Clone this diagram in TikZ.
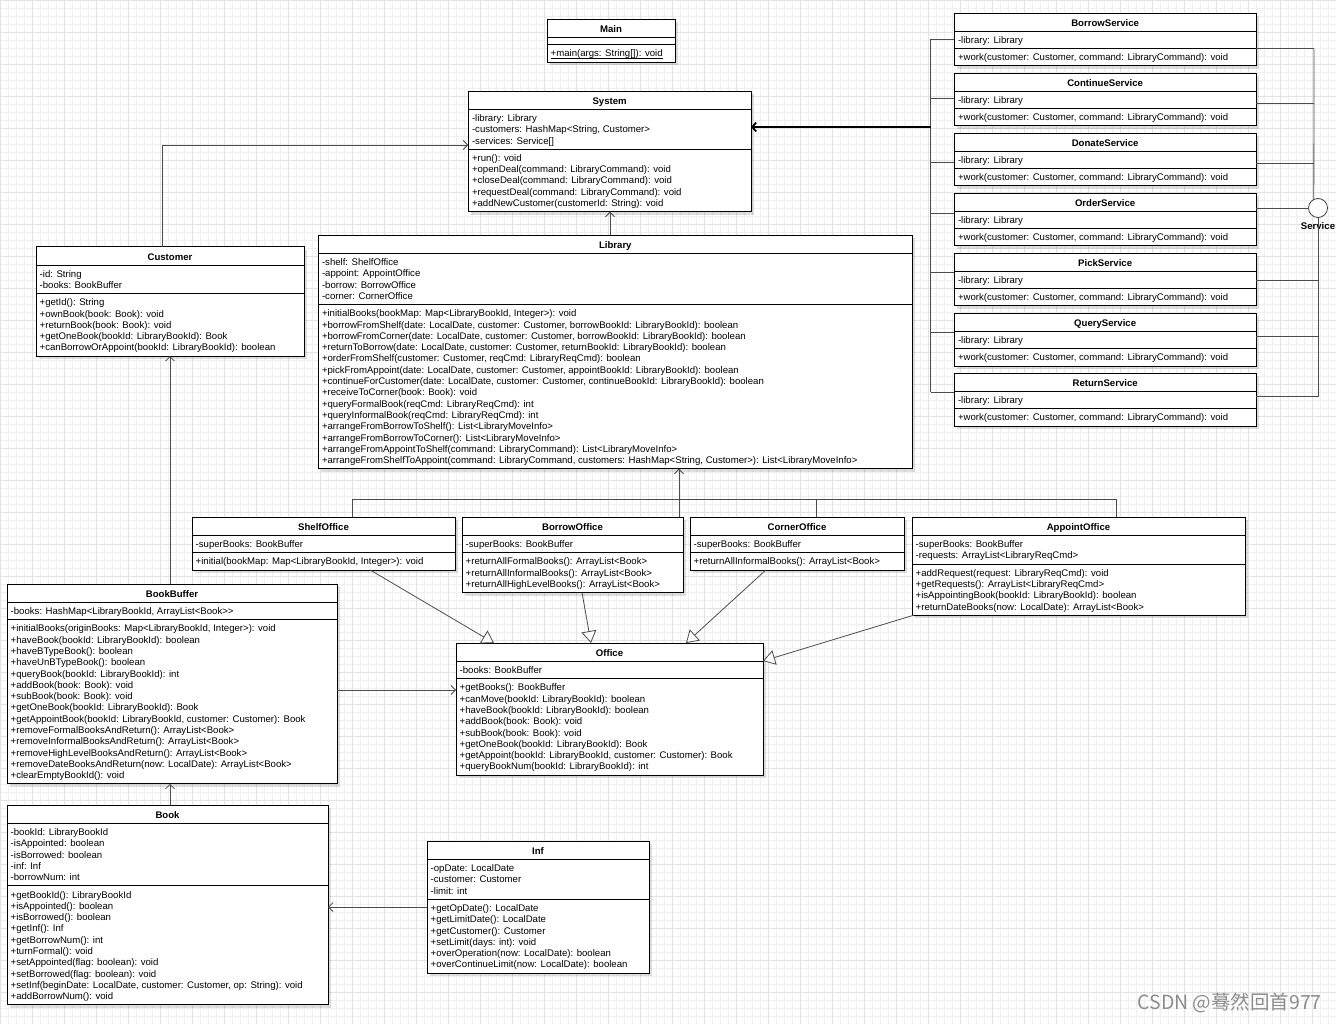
\documentclass[tikz,border=0pt]{standalone}
\usepackage{fontspec}
\setmainfont{Liberation Sans}
\newfontfamily\cjkfont{Noto Sans CJK SC}
\usetikzlibrary{arrows.meta}
\newcommand\sx{\vrule height 8.3pt depth 3pt width 0pt\relax}
\newcommand\nl{\\\sx}
\newcommand\uline[1]{\setbox0\hbox{#1}\rlap{\vrule height -1.1pt depth 1.9pt width \wd0}\box0}
\tikzset{
  classbox/.style={draw=black, fill=white, line width=0.8pt, anchor=north west, inner sep=0pt, outer sep=0pt},
  divline/.style={draw=black, line width=0.8pt},
  shadowc/.style={fill=black, opacity=0.13},
  ctitle/.style={anchor=base, inner sep=0pt, font=\fontsize{9.6}{11.3}\selectfont\bfseries},
  csec/.style={anchor=north west, align=left, inner sep=0pt, font=\fontsize{9.6}{11.3}\selectfont},
  conn/.style={draw=black!70, line width=0.8pt},
  assoc/.style={conn, -{Straight Barb[length=4.5pt,width=9pt]}},
  gen/.style={conn, -{Triangle[open,fill=white,length=12pt,width=15pt]}},
  busthick/.style={draw=black, line width=1.8pt, -{Straight Barb[length=4pt,width=9pt]}},
  gridmin/.style={draw=black!6, line width=0.5pt},
  gridmaj/.style={draw=black!11, line width=0.5pt},
  wmtext/.style={anchor=east, inner sep=0pt, text=black!45, font=\cjkfont\fontsize{19.5}{22}\selectfont},
}
\newcommand\umlclass[9]{%
  \pgfmathsetmacro\cya{#5+18.3}%
  \pgfmathsetmacro\cyb{\cya+ifthenelse(#6==0,7.5,11.3*#6+6)}%
  \pgfmathsetmacro\cyc{\cyb+11.3*#7+6}%
  \pgfmathsetmacro\cww{#4-#3}%
  \pgfmathsetmacro\chh{\cyc-#5}%
  \fill[shadowc] (#3+3,#5+3) rectangle (#4+3,\cyc+3);
  \node[classbox, minimum width=\cww, minimum height=\chh] (#1) at (#3,#5) {};
  \draw[divline] (#3,\cya) -- (#4,\cya) (#3,\cyb) -- (#4,\cyb);
  \node[ctitle] (#1-t) at ({(#3+#4)/2},#5+13.6) {#2};
  \node[csec] (#1-a) at (#3+3.5,\cya+3.7) {#8};
  \node[csec] (#1-m) at (#3+3.5,\cyb+3.7) {#9};
}
\begin{document}
\begin{tikzpicture}[x=1pt,y=-1pt]
\useasboundingbox (0,0) rectangle (1336,1024);
\fill[white] (0,0) rectangle (1336,1024);
\foreach \gx in {0,8,...,1336} {\draw[gridmin] (\gx,0) -- (\gx,1024);}
\foreach \gy in {0,8,...,1024} {\draw[gridmin] (0,\gy) -- (1336,\gy);}
\foreach \gx in {0,32,...,1336} {\draw[gridmaj] (\gx,0) -- (\gx,1024);}
\foreach \gy in {0,32,...,1024} {\draw[gridmaj] (0,\gy) -- (1336,\gy);}

% ---------- classes ----------
\umlclass{main}{Main}{547}{675}{19}{0}{1}{}{\sx\uline{+main(args: String[]): void}}

\umlclass{sys}{System}{468.3}{751}{91}{3}{5}%
{\sx -library: Library\nl -customers: HashMap<String, Customer>\nl -services: Service[]}%
{\sx +run(): void\nl +openDeal(command: LibraryCommand): void\nl +closeDeal(command: LibraryCommand): void\nl +requestDeal(command: LibraryCommand): void\nl +addNewCustomer(customerId: String): void}

\foreach \snm/\sttl/\sy in {svBorrow/BorrowService/13, svContinue/ContinueService/73, svDonate/DonateService/133, svOrder/OrderService/193, svPick/PickService/253, svQuery/QueryService/313, svReturn/ReturnService/373}{
  \umlclass{\snm}{\sttl}{954.3}{1256}{\sy}{1}{1}{\sx -library: Library}{\sx +work(customer: Customer, command: LibraryCommand): void}
}

\umlclass{cust}{Customer}{36}{304}{246.7}{2}{5}%
{\sx -id: String\nl -books: BookBuffer}%
{\sx +getId(): String\nl +ownBook(book: Book): void\nl +returnBook(book: Book): void\nl +getOneBook(bookId: LibraryBookId): Book\nl +canBorrowOrAppoint(bookId: LibraryBookId): boolean}

\umlclass{lib}{Library}{318.3}{912.3}{235}{4}{14}%
{\sx -shelf: ShelfOffice\nl -appoint: AppointOffice\nl -borrow: BorrowOffice\nl -corner: CornerOffice}%
{\sx +initialBooks(bookMap: Map<LibraryBookId, Integer>): void\nl
+borrowFromShelf(date: LocalDate, customer: Customer, borrowBookId: LibraryBookId): boolean\nl
+borrowFromCorner(date: LocalDate, customer: Customer, borrowBookId: LibraryBookId): boolean\nl
+returnToBorrow(date: LocalDate, customer: Customer, returnBookId: LibraryBookId): boolean\nl
+orderFromShelf(customer: Customer, reqCmd: LibraryReqCmd): boolean\nl
+pickFromAppoint(date: LocalDate, customer: Customer, appointBookId: LibraryBookId): boolean\nl
+continueForCustomer(date: LocalDate, customer: Customer, continueBookId: LibraryBookId): boolean\nl
+receiveToCorner(book: Book): void\nl
+queryFormalBook(reqCmd: LibraryReqCmd): int\nl
+queryInformalBook(reqCmd: LibraryReqCmd): int\nl
+arrangeFromBorrowToShelf(): List<LibraryMoveInfo>\nl
+arrangeFromBorrowToCorner(): List<LibraryMoveInfo>\nl
+arrangeFromAppointToShelf(command: LibraryCommand): List<LibraryMoveInfo>\nl
+arrangeFromShelfToAppoint(command: LibraryCommand, customers: HashMap<String, Customer>): List<LibraryMoveInfo>}

\umlclass{shelf}{ShelfOffice}{192}{455}{517}{1}{1}%
{\sx -superBooks: BookBuffer}%
{\sx +initial(bookMap: Map<LibraryBookId, Integer>): void}

\umlclass{borr}{BorrowOffice}{462}{683}{517}{1}{3}%
{\sx -superBooks: BookBuffer}%
{\sx +returnAllFormalBooks(): ArrayList<Book>\nl +returnAllInformalBooks(): ArrayList<Book>\nl +returnAllHighLevelBooks(): ArrayList<Book>}

\umlclass{corn}{CornerOffice}{690}{904}{517}{1}{1}%
{\sx -superBooks: BookBuffer}%
{\sx +returnAllInformalBooks(): ArrayList<Book>}

\umlclass{appo}{AppointOffice}{912}{1245}{517}{2}{4}%
{\sx -superBooks: BookBuffer\nl -requests: ArrayList<LibraryReqCmd>}%
{\sx +addRequest(request: LibraryReqCmd): void\nl +getRequests(): ArrayList<LibraryReqCmd>\nl +isAppointingBook(bookId: LibraryBookId): boolean\nl +returnDateBooks(now: LocalDate): ArrayList<Book>}

\umlclass{office}{Office}{456}{763}{643}{1}{8}%
{\sx -books: BookBuffer}%
{\sx +getBooks(): BookBuffer\nl +canMove(bookId: LibraryBookId): boolean\nl +haveBook(bookId: LibraryBookId): boolean\nl +addBook(book: Book): void\nl +subBook(book: Book): void\nl +getOneBook(bookId: LibraryBookId): Book\nl +getAppoint(bookId: LibraryBookId, customer: Customer): Book\nl +queryBookNum(bookId: LibraryBookId): int}

\umlclass{bb}{BookBuffer}{7}{337}{584}{1}{14}%
{\sx -books: HashMap<LibraryBookId, ArrayList<Book>\hbox{}>}%
{\sx +initialBooks(originBooks: Map<LibraryBookId, Integer>): void\nl
+haveBook(bookId: LibraryBookId): boolean\nl
+haveBTypeBook(): boolean\nl
+haveUnBTypeBook(): boolean\nl
+queryBook(bookId: LibraryBookId): int\nl
+addBook(book: Book): void\nl
+subBook(book: Book): void\nl
+getOneBook(bookId: LibraryBookId): Book\nl
+getAppointBook(bookId: LibraryBookId, customer: Customer): Book\nl
+removeFormalBooksAndReturn(): ArrayList<Book>\nl
+removeInformalBooksAndReturn(): ArrayList<Book>\nl
+removeHighLevelBooksAndReturn(): ArrayList<Book>\nl
+removeDateBooksAndReturn(now: LocalDate): ArrayList<Book>\nl
+clearEmptyBookId(): void}

\umlclass{book}{Book}{7}{328}{805}{5}{10}%
{\sx -bookId: LibraryBookId\nl -isAppointed: boolean\nl -isBorrowed: boolean\nl -inf: Inf\nl -borrowNum: int}%
{\sx +getBookId(): LibraryBookId\nl +isAppointed(): boolean\nl +isBorrowed(): boolean\nl +getInf(): Inf\nl +getBorrowNum(): int\nl +turnFormal(): void\nl +setAppointed(flag: boolean): void\nl +setBorrowed(flag: boolean): void\nl +setInf(beginDate: LocalDate, customer: Customer, op: String): void\nl +addBorrowNum(): void}

\umlclass{inf}{Inf}{427}{649}{841}{3}{6}%
{\sx -opDate: LocalDate\nl -customer: Customer\nl -limit: int}%
{\sx +getOpDate(): LocalDate\nl +getLimitDate(): LocalDate\nl +getCustomer(): Customer\nl +setLimit(days: int): void\nl +overOperation(now: LocalDate): boolean\nl +overContinueLimit(now: LocalDate): boolean}

% ---------- services: left bus to System ----------
\coordinate (lbT) at (930.7,39);
\coordinate (lbB) at (930.7,392.3);
\coordinate (lbS) at (930.7,127);
\draw[conn] (lbT) -- (lbB);
\draw[conn] (svBorrow.west |- lbT) -- (lbT);
\draw[conn] (svContinue.west |- 0,98.3) -- (lbT |- 0,98.3);
\draw[conn] (svDonate.west |- 0,162.3) -- (lbT |- 0,162.3);
\draw[conn] (svOrder.west |- 0,213) -- (lbT |- 0,213);
\draw[conn] (svPick.west |- 0,272.3) -- (lbT |- 0,272.3);
\draw[conn] (svQuery.west |- 0,332.3) -- (lbT |- 0,332.3);
\draw[conn] (svReturn.west |- lbB) -- (lbB);
\draw[busthick] (lbS) -- (sys.east |- lbS);

% ---------- services: interface ----------
\node[draw=black!75, line width=0.8pt, circle, minimum size=19pt, inner sep=0pt, fill=white] (svc) at (1318,208) {};
\node[ctitle] (svc-l) at (1318,230) {Service};
\coordinate (rbT) at (1314,48.7);
\coordinate (rbB) at (1318,396.7);
\draw[conn] (rbT) -- (svc.115);
\draw[conn] (svBorrow.east |- rbT) -- (rbT);
\draw[conn] (svContinue.east |- 0,103) -- (rbT |- 0,103);
\draw[conn] (svDonate.east |- 0,163) -- (rbT |- 0,163);
\draw[conn] (svOrder.east |- svc) -- (svc.west);
\draw[conn] (svc.south) -- (rbB);
\draw[conn] (svPick.east |- 0,280) -- (rbB |- 0,280);
\draw[conn] (svQuery.east |- 0,336.7) -- (rbB |- 0,336.7);
\draw[conn] (svReturn.east |- rbB) -- (rbB);

% ---------- other connectors ----------
\coordinate (csA) at (162.3,145);
\draw[assoc] (cust.north -| csA) -- (csA) -- (sys.west |- csA);
\coordinate (lsA) at (610,220);
\draw[assoc] (lib.north -| lsA) -- (sys.south -| lsA);

\coordinate (obL) at (352.5,499);
\coordinate (obM) at (679,499);
\coordinate (obC) at (816,499);
\coordinate (obR) at (1116,499);
\draw[conn] (shelf.north -| obL) -- (obL) -- (obR) -- (appo.north -| obR);
\draw[conn] (borr.north -| obM) -- (obM);
\draw[conn] (corn.north -| obC) -- (obC);
\draw[assoc] (obM) -- (lib.south -| obM);

\draw[gen] (shelf.south -| 370,0) -- (office.north -| 494,0);
\draw[gen] (borr.south -| 582,0) -- (office.north -| 591,0);
\draw[gen] (corn.south -| 766,0) -- (office.north -| 686,0);
\draw[gen] (appo.south -| 914,0) -- (office.east |- 0,661);

\draw[assoc] (bb.east |- 0,690) -- (office.west |- 0,690);
\draw[assoc] (bb.north -| 170,0) -- (cust.south -| 170,0);
\draw[assoc] (book.north -| 170,0) -- (bb.south -| 170,0);
\draw[assoc] (inf.west |- 0,907) -- (book.east |- 0,907);

\node[wmtext] (wm) at (1322,1003) {CSDN @蓦然回首977};
\end{tikzpicture}
\end{document}
